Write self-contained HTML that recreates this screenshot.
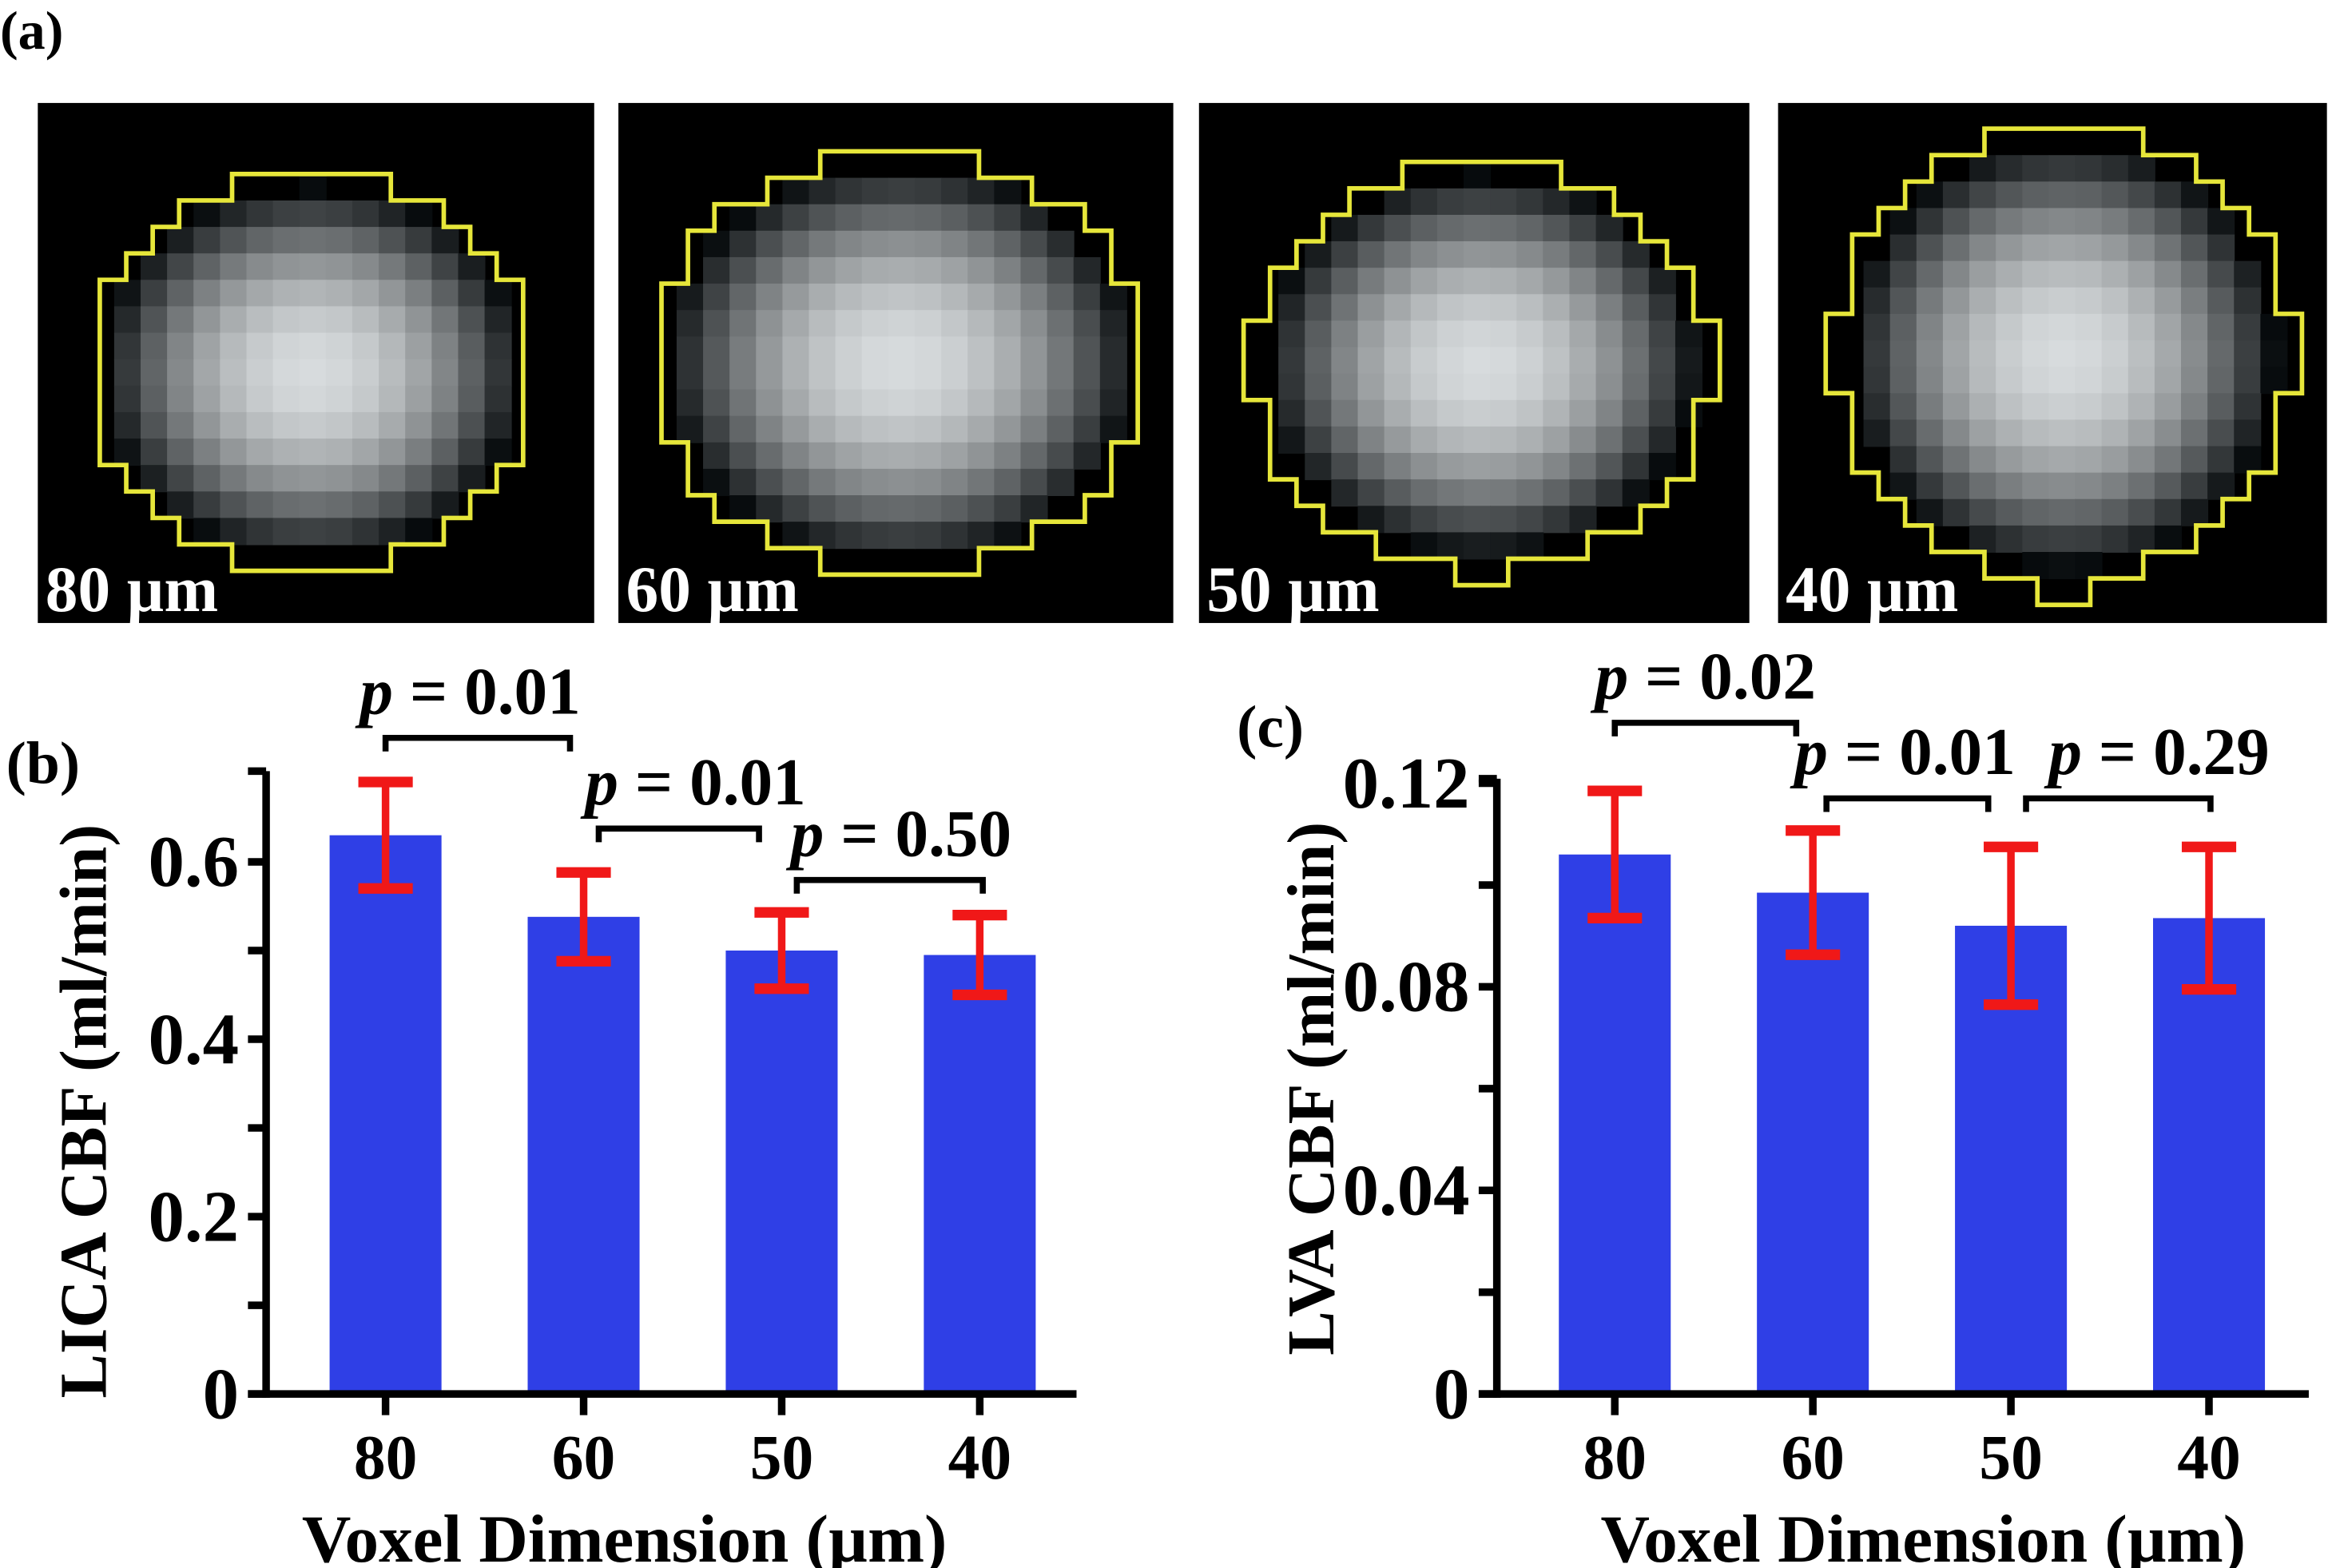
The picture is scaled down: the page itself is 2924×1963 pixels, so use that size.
<!DOCTYPE html>
<html><head><meta charset="utf-8"><style>
html,body{margin:0;padding:0;background:#fff;}
svg{display:block;}
text{font-family:"Liberation Serif",serif;font-weight:bold;}
</style></head><body>
<svg id="fig" width="2924" height="1963" viewBox="0 0 1545 1037" xmlns="http://www.w3.org/2000/svg">
<text x="0" y="32" font-size="36">(a)</text>
<text x="4" y="518" font-size="40">(b)</text>
<text x="818" y="494" font-size="40">(c)</text>
<g id="images"></g>
<g id="chartB"></g>
<g id="chartC"></g>
</svg>
<script>
// ---- Chart data ----
const categories = ["80","60","50","40"];
const licaValues = [0.63, 0.538, 0.50, 0.495];
const licaErrors = [0.06, 0.05, 0.043, 0.045];
const lvaValues = [0.106, 0.0985, 0.092, 0.0935];
const lvaErrors = [0.0125, 0.0122, 0.0155, 0.014];
const licaTicks = ["0","0.2","0.4","0.6"];
const lvaTicks = ["0","0.04","0.08","0.12"];
const licaPLabels = ["0.01","0.01","0.50"];
const lvaPLabels = ["0.02","0.01","0.29"];
const imageLabels = ["80 µm","60 µm","50 µm","40 µm"];

const NS="http://www.w3.org/2000/svg";
function mk(tag,attrs,parent){const e=document.createElementNS(NS,tag);for(const k in attrs)e.setAttribute(k,attrs[k]);parent.appendChild(e);return e;}

// ---- image panels ----
const imgG=document.getElementById('images');
const panels=[
 {x:25,w:368,cx:206,cy:246,rx:148,ry:131,s:17.5},
 {x:409,w:367,cx:595,cy:240,rx:165,ry:140,s:17.5},
 {x:793,w:364,cx:980,cy:241,rx:152,ry:134,s:17.5},
 {x:1176,w:363,cx:1365,cy:235,rx:150,ry:150,s:17.5}
];
panels.forEach((p,i)=>{
  const g=mk('g',{},imgG);
  
  
  mk('rect',{x:p.x,y:68,width:p.w,height:344,fill:'#000'},g);
  const cp=mk('clipPath',{id:'cp'+i},g);
  mk('rect',{x:p.x,y:68,width:p.w,height:344},cp);
  const pix=mk('g',{'clip-path':'url(#cp'+i+')'},g);
  const s=p.s;
  for(let yy=p.cy-p.ry-s*2; yy<p.cy+p.ry+s; yy+=s){
    for(let xx=p.cx-p.rx-s*2; xx<p.cx+p.rx+s; xx+=s){
      const dx=(xx+s/2-p.cx)/(p.rx*0.95), dy=(yy+s/2-p.cy)/(p.ry*0.95);
      const d=Math.sqrt(dx*dx+dy*dy);
      let v=Math.max(0,1-d*d)*215;
      if(v<6) continue;
      v=Math.round(v);
      mk('rect',{x:xx,y:yy,width:s+0.5,height:s+0.5,fill:`rgb(${v},${v+4},${v+6})`},pix);
    }
  }
  let right=[],left=[];
  const rows=Math.ceil(2*p.ry/s);
  for(let r=0;r<rows;r++){
    const y0=p.cy-p.ry+r*s, y1=y0+s;
    const dy=(y0+s/2-p.cy)/p.ry;
    const hw=Math.max(s,Math.round(Math.sqrt(Math.max(0,1-dy*dy))*p.rx/s)*s);
    right.push([p.cx+hw,y0],[p.cx+hw,y1]);
    left.push([p.cx-hw,y0],[p.cx-hw,y1]);
  }
  const pts=right.concat(left.reverse()).map(q=>q.join(',')).join(' ');
  const ol=mk('polygon',{points:pts,fill:'none',stroke:'#e6e63a','stroke-width':3},g);
  
  
  const t=mk('text',{x:p.x+5,y:404,'font-size':43,fill:'#fff'},g);
  t.textContent=imageLabels[i];
  
  
});

// ---- bar charts ----
function drawChart(gid,cfg){
  const g=document.getElementById(gid);
  const y=v=>cfg.y0-(v/cfg.vmax)*(cfg.y0-cfg.yTop);
  const xc=i=>cfg.xStart+i*cfg.step;
  cfg.values.forEach((v,i)=>{
    const b=mk('rect',{x:xc(i)-37,y:y(v),width:74,height:cfg.y0-y(v),fill:'#2f3fe6'},g);
    
    
  });
  cfg.values.forEach((v,i)=>{
    const e=cfg.errors[i],hi=y(v+e),lo=y(v-e),c=xc(i);
    const eg=mk('g',{stroke:'#f01818'},g);
    
    
    mk('line',{x1:c,y1:hi,x2:c,y2:lo,'stroke-width':5},eg);
    mk('line',{x1:c-18,y1:hi,x2:c+18,y2:hi,'stroke-width':7},eg);
    mk('line',{x1:c-18,y1:lo,x2:c+18,y2:lo,'stroke-width':7},eg);
  });
  const ax=mk('g',{stroke:'#000','stroke-width':5},g);
  
  
  mk('line',{x1:cfg.xAxis,y1:cfg.axTop,x2:cfg.xAxis,y2:cfg.y0+2.5},ax);
  mk('line',{x1:cfg.xAxis-12,y1:cfg.y0,x2:cfg.xEnd,y2:cfg.y0},ax);
  mk('line',{x1:cfg.xAxis-12,y1:cfg.axTop,x2:cfg.xAxis,y2:cfg.axTop},ax);
  const n=cfg.ticks.length;
  for(let k=0;k<(n-1)*2+1;k++){
    const val=k*(cfg.tickStep/2);
    mk('line',{x1:cfg.xAxis-12,y1:y(val),x2:cfg.xAxis,y2:y(val)},ax);
  }
  cfg.ticks.forEach((t,k)=>{
    const tx=mk('text',{x:cfg.xAxis-18,y:y(k*cfg.tickStep)+16,'font-size':48,'text-anchor':'end'},g);
    tx.textContent=t;
    
    
  });
  categories.forEach((c,i)=>{
    mk('line',{x1:xc(i),y1:cfg.y0,x2:xc(i),y2:cfg.y0+14},ax);
    const tx=mk('text',{x:xc(i),y:cfg.y0+56,'font-size':42,'text-anchor':'middle'},g);
    tx.textContent=c;
    
    
  });
  const xt=mk('text',{x:cfg.xTitleX,y:1033,'font-size':45,'text-anchor':'middle'},g);
  xt.textContent='Voxel Dimension  (µm)';
  
  
  const yt=mk('text',{x:0,y:0,'font-size':44,'text-anchor':'middle',transform:`translate(${cfg.yTitleX},${cfg.yTitleY}) rotate(-90)`},g);
  yt.textContent=cfg.yTitle;
  
  
  cfg.brackets.forEach((br,k)=>{
    const bg=mk('g',{},g);
    
    
    mk('polyline',{points:`${br[0]},${br[2]+9} ${br[0]},${br[2]} ${br[1]},${br[2]} ${br[1]},${br[2]+9}`,fill:'none',stroke:'#000','stroke-width':4},bg);
    const t=mk('text',{x:br[3],y:br[2]-16,'font-size':44,'text-anchor':'middle'},bg);
    const ti=mk('tspan',{'font-style':'italic'},t);ti.textContent='p';
    const tr=mk('tspan',{},t);tr.textContent=' = '+cfg.pLabels[k];
  });
}
drawChart('chartB',{values:licaValues,errors:licaErrors,ticks:licaTicks,pLabels:licaPLabels,vmax:0.6,tickStep:0.2,
  y0:922,yTop:570,axTop:510,xAxis:176,xEnd:712,xStart:255,step:131,xTitleX:413,yTitleX:70,yTitleY:735,yTitle:'LICA CBF (ml/min)',
  brackets:[[255,377,488,311],[396,502,548,460],[527,650,582,596]]});
drawChart('chartC',{values:lvaValues,errors:lvaErrors,ticks:lvaTicks,pLabels:lvaPLabels,vmax:0.12,tickStep:0.04,
  y0:922,yTop:518,axTop:515,xAxis:990,xEnd:1527,xStart:1068,step:131,xTitleX:1272,yTitleX:882,yTitleY:720,yTitle:'LVA CBF (ml/min)',
  brackets:[[1068,1188,478,1128],[1208,1315,528,1260],[1340,1462,528,1428]]});
</script>
</body></html>
